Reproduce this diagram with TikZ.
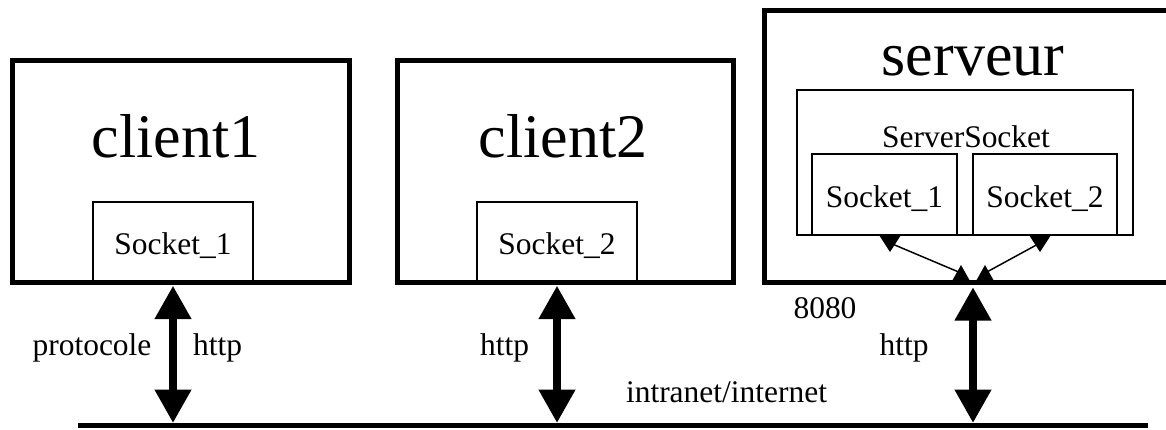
\documentclass[tikz,border=0pt]{standalone}
\usepackage{fontspec}
\setmainfont{Liberation Serif}
\usetikzlibrary{arrows.meta,positioning}

\begin{document}
\begin{tikzpicture}[x=0.75pt,y=-0.75pt]
\tikzset{host/.style = {draw,line width=3.75pt,inner sep=0pt}}
\tikzset{sockbox/.style = {draw,line width=1.5pt,inner sep=0pt,minimum height=60pt,font=\fontsize{23.6}{26}\selectfont,text height=19pt,text depth=0pt}}
\tikzset{bigname/.style = {font=\fontsize{46.5}{50}\selectfont,anchor=base,inner sep=0pt}}
\tikzset{lbl/.style = {font=\fontsize{23.6}{26}\selectfont,anchor=base,inner sep=0pt}}
\tikzset{link/.style = {{Triangle[length=25pt,width=26pt]}-{Triangle[length=25pt,width=26pt]},line width=6pt,shorten <=2pt,shorten >=1.5pt}}
\tikzset{thinlink/.style = {line width=1.1pt}}
\tikzset{head/.style = {fill=black}}
\useasboundingbox (0,0) rectangle (1166,429);
% NODES
\node[host,minimum width=252.75pt,minimum height=166.5pt] (client1) at (180.5,171) {};
\node[host,minimum width=252pt,minimum height=166.5pt] (client2) at (565,171) {};
\node[host,minimum width=313.5pt,minimum height=204pt] (serveur) at (973,146) {};
\node[bigname] (client1name) at (176,157) {client1};
\node[bigname] (client2name) at (563,157) {client2};
\node[bigname] (serveurname) at (973,75) {serveur};

\node[sockbox,minimum width=120pt] (sock1) at (173,242) {Socket\_1};
\node[sockbox,minimum width=120pt] (sock2) at (557,242) {Socket\_2};

\node[sockbox,minimum width=252pt,minimum height=108.75pt] (srvsock) at (965,162.5) {};
\node[lbl] (srvsockname) at (966,147) {ServerSocket};
\node[sockbox,minimum width=108.75pt,minimum height=60.75pt] (srvs1) at (884.5,194.5) {Socket\_1};
\node[sockbox,minimum width=108pt,minimum height=60.75pt] (srvs2) at (1045,194.5) {Socket\_2};

\coordinate (busL) at (78,425);
\coordinate (busR) at (1148,425);
\coordinate (up1) at (890,243);
\coordinate (up2) at (1040,243);
\coordinate (dn1) at (961,273);
\coordinate (dn2) at (985,273);

\node[lbl] (proto) at (92,355) {protocole};
\node[lbl] (http1) at (217.5,355) {http};
\node[lbl] (http2) at (504.5,355) {http};
\node[lbl] (http3) at (904,355) {http};
\node[lbl] (port) at (825,318) {8080};
\node[lbl] (net) at (726.5,402) {intranet/internet};
% EDGES
\draw[line width=3.75pt] (busL) -- (busR);
\draw[link] (sock1.south) -- (sock1.south |- busL);
\draw[link] (sock2.south) -- (sock2.south |- busL);
\draw[link] (serveur.south) -- (serveur.south |- busL);

\draw[thinlink] (up1) -- (dn1);
\draw[thinlink] (up2) -- (dn2);
\fill[head] (up1) ++(-11,-8) -- ++(22,0) -- ++(-11,17) -- cycle;
\fill[head] (up2) ++(-11,-8) -- ++(22,0) -- ++(-11,17) -- cycle;
\fill[head] (dn1) ++(-9,8) -- ++(18,0) -- ++(-9,-16) -- cycle;
\fill[head] (dn2) ++(-9,8) -- ++(18,0) -- ++(-9,-16) -- cycle;
\end{tikzpicture}
\end{document}
